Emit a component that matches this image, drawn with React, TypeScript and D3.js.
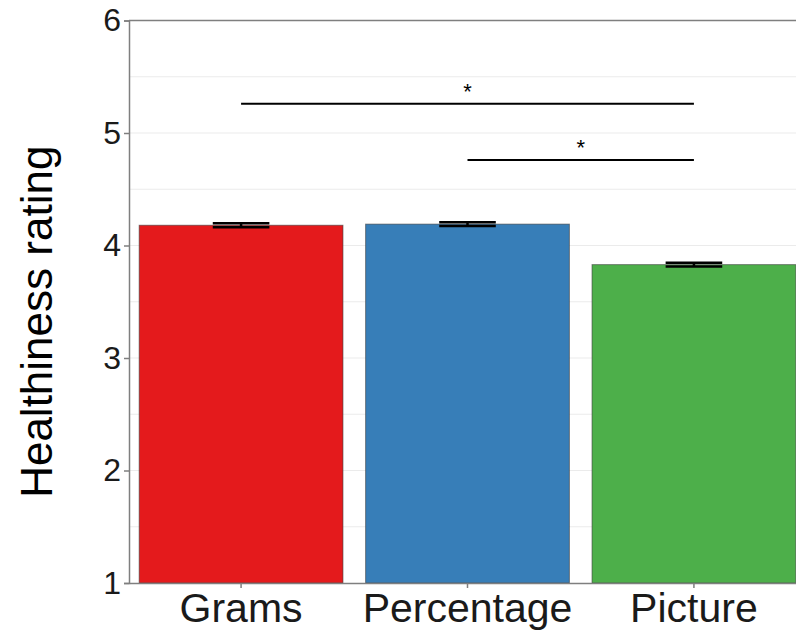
import React, { useEffect, useRef } from 'react'
import * as d3 from 'd3'

const categories = ['Grams', 'Percentage', 'Picture']
const means = [4.18, 4.19, 3.83]
const errors = [0.017, 0.017, 0.017]
const colors = ['#E41A1C', '#377EB8', '#4DAF4A']
const yTicks = [1, 2, 3, 4, 5, 6]
const yMinor = [1.5, 2.5, 3.5, 4.5, 5.5]
const sigFrom = ['Grams', 'Percentage']
const sigTo = ['Picture', 'Picture']
const sigY = [5.26, 4.76]
const sigLabel = ['*', '*']

function App() {
  const d3Container = useRef<SVGSVGElement>(null)

  useEffect(() => {
    if (!d3Container.current) return
    const svg = d3.select(d3Container.current)
    svg.selectAll('*').remove()

    const left = 129, right = 806, top = 20.5, bottom = 583

    const x = d3.scaleBand()
      .domain(categories)
      .range([left, right])
      .paddingInner(0.1)
      .paddingOuter(0.045)

    const y = d3.scaleLinear()
      .domain([1, 6])
      .range([bottom, top])

    // grid lines
    svg.append('g')
      .selectAll('line')
      .data([...yMinor, ...yTicks.slice(1, -1)])
      .join('line')
        .attr('x1', left).attr('x2', right)
        .attr('y1', d => y(d)).attr('y2', d => y(d))
        .attr('stroke', '#ebebeb')
        .attr('stroke-width', 1.2)

    // top border
    svg.append('line')
      .attr('x1', left).attr('x2', right)
      .attr('y1', top).attr('y2', top)
      .attr('stroke', '#7f7f7f').attr('stroke-width', 1.5)

    // bars
    svg.append('g')
      .selectAll('rect')
      .data(categories)
      .join('rect')
        .attr('x', d => x(d)!)
        .attr('y', (d, i) => y(means[i]))
        .attr('width', x.bandwidth())
        .attr('height', (d, i) => y(1) - y(means[i]))
        .attr('fill', (d, i) => colors[i])
        .attr('stroke', 'rgba(60,60,60,0.6)')
        .attr('stroke-width', 1)

    // error bars
    const capHalf = x.step() * 0.125
    const eb = svg.append('g').attr('stroke', '#000').attr('stroke-width', 2.5)
    categories.forEach((c, i) => {
      const cx = x(c)! + x.bandwidth() / 2
      const hi = y(means[i] + errors[i]), lo = y(means[i] - errors[i])
      eb.append('line').attr('x1', cx - capHalf).attr('x2', cx + capHalf).attr('y1', hi).attr('y2', hi)
      eb.append('line').attr('x1', cx - capHalf).attr('x2', cx + capHalf).attr('y1', lo).attr('y2', lo)
      eb.append('line').attr('x1', cx).attr('x2', cx).attr('y1', hi).attr('y2', lo)
    })

    // significance brackets
    sigFrom.forEach((f, i) => {
      const x1 = x(f)! + x.bandwidth() / 2
      const x2 = x(sigTo[i])! + x.bandwidth() / 2
      svg.append('line')
        .attr('x1', x1).attr('x2', x2)
        .attr('y1', y(sigY[i])).attr('y2', y(sigY[i]))
        .attr('stroke', '#000').attr('stroke-width', 2.2)
      svg.append('text')
        .attr('x', (x1 + x2) / 2)
        .attr('y', y(sigY[i]) - 5)
        .attr('text-anchor', 'middle')
        .attr('font-family', 'Liberation Sans, Arial, sans-serif')
        .attr('font-size', 22)
        .attr('fill', '#000')
        .text(sigLabel[i])
    })

    // y axis
    const yAxis = d3.axisLeft(y).tickValues(yTicks).tickSize(5).tickPadding(3).tickFormat(d3.format('d'))
    const ya = svg.append('g')
      .attr('transform', `translate(${left},0)`)
      .call(yAxis)
      .attr('font-family', 'Liberation Sans, Arial, sans-serif')
      .attr('font-size', 32)
    ya.select('.domain').attr('stroke', '#7f7f7f').attr('stroke-width', 1.5)
    ya.selectAll('.tick line').attr('stroke', '#7f7f7f').attr('stroke-width', 1.5)
    ya.selectAll('.tick text').attr('fill', '#1a1a1a')

    // x axis
    const xAxis = d3.axisBottom(x).tickSize(5).tickSizeOuter(0).tickPadding(5)
    const xa = svg.append('g')
      .attr('transform', `translate(0,${bottom})`)
      .call(xAxis)
      .attr('font-family', 'Liberation Sans, Arial, sans-serif')
      .attr('font-size', 41)
    xa.select('.domain').attr('stroke', '#7f7f7f').attr('stroke-width', 1.5)
    xa.selectAll('.tick line').attr('stroke', '#7f7f7f').attr('stroke-width', 1.5)
    xa.selectAll('.tick text').attr('fill', '#1a1a1a')

    // y title
    svg.append('text')
      .attr('transform', `translate(52,${(top + bottom) / 2 + 20}) rotate(-90)`)
      .attr('text-anchor', 'middle')
      .attr('font-family', 'Liberation Sans, Arial, sans-serif')
      .attr('font-size', 44)
      .attr('fill', '#000')
      .text('Healthiness rating')
  }, [])

  return (
    <svg
      ref={d3Container}
      width={796}
      height={639}
      style={{ position: 'fixed', left: 0, top: 0, background: '#fff' }}
    />
  )
}

export default App
